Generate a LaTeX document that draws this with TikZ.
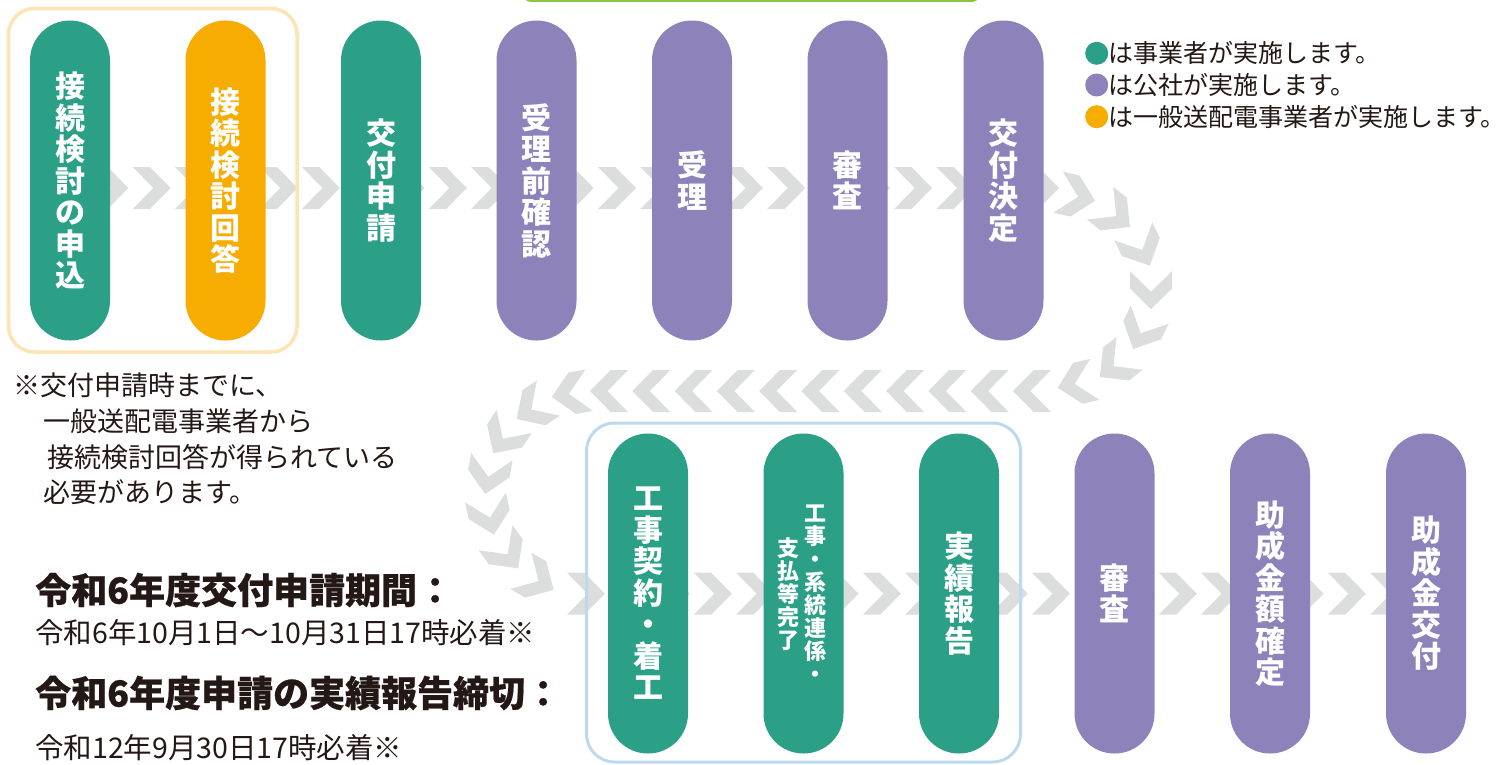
\documentclass[tikz,border=0pt]{standalone}
\usepackage{fontspec}
\newfontfamily\jp{Noto Sans CJK JP}
\newfontfamily\jphead{Noto Sans CJK JP}[BoldFeatures={FakeBold=0.6}]
\definecolor{cgreen}{HTML}{2BA086}
\definecolor{cpurple}{HTML}{8E82BB}
\definecolor{corange}{HTML}{F6AC00}
\definecolor{chevc}{HTML}{DCDDDD}
\definecolor{ctext}{HTML}{231815}
\definecolor{cyellowbox}{HTML}{FDE4B4}
\definecolor{cbluebox}{HTML}{BCD9F0}
\definecolor{ctopline}{HTML}{8CC63F}
\newcommand\pillfont{\jp\bfseries\fontsize{30pt}{31.5pt}\selectfont}
\newcommand\smallpillfont{\jp\bfseries\fontsize{22pt}{23pt}\selectfont}
\newcommand\chev[3]{\begin{scope}[shift={({#1},{#2})},rotate={#3}]
  \fill[chevc] (-19,-21) -- (-1.7,-21) -- (19,0) -- (-1.7,21) -- (-19,21) -- (1.6,0) -- cycle;
\end{scope}}
\tikzset{
  pill/.style={rectangle, rounded corners=39.9pt, minimum width=80pt, minimum height=320pt,
    inner sep=0pt, text=white, align=center, font=\pillfont},
  gp/.style={pill, fill=cgreen},
  pp/.style={pill, fill=cpurple},
  op/.style={pill, fill=corange},
  smalllabel/.style={inner sep=0pt, text=white, align=center, font=\smallpillfont},
  legdot/.style={circle, inner sep=0pt, minimum size=23pt},
  legtext/.style={anchor=west, inner sep=0pt, text=ctext, font=\jp\fontsize{25pt}{26pt}\selectfont},
  note/.style={anchor=west, inner sep=0pt, text=ctext, font=\jp\fontsize{27pt}{28pt}\selectfont},
  headtext/.style={anchor=west, inner sep=0pt, text=ctext, font=\jphead\bfseries\fontsize{36pt}{38pt}\selectfont},
  datetext/.style={anchor=west, inner sep=0pt, text=ctext, font=\jp\fontsize{28.5pt}{30pt}\selectfont},
}
\begin{document}
\begin{tikzpicture}[x=1pt,y=-1pt]
\useasboundingbox (0,0) rectangle (1507,764);
\fill[white] (0,0) rectangle (1507,764);

% top green line
\draw[ctopline, line width=2.5pt, rounded corners=4pt] (526,-10) -- (526,0.6) -- (977,0.6) -- (977,-10);

% chevron chain
\foreach \k in {-1,...,22} {
  \pgfmathsetmacro\cx{109.4+42.3*\k}
  \chev{\cx}{188}{0}
}
\foreach \k in {0,...,6} {
  \pgfmathsetmacro\th{-77+25.7*\k}
  \pgfmathsetmacro\cx{1055+96*cos(\th)}
  \pgfmathsetmacro\cy{290+96*sin(\th)}
  \pgfmathsetmacro\rt{-(\th+90)}
  \chev{\cx}{\cy}{\rt}
}
\foreach \k in {0,...,10} {
  \pgfmathsetmacro\cx{609+42.3*\k}
  \chev{\cx}{391}{180}
}
\foreach \k in {0,...,6} {
  \pgfmathsetmacro\th{-100-23.3*\k}
  \pgfmathsetmacro\cx{588+101*cos(\th)}
  \pgfmathsetmacro\cy{493+101*sin(\th)}
  \pgfmathsetmacro\rt{90-\th}
  \chev{\cx}{\cy}{\rt}
}
\foreach \k in {0,...,19} {
  \pgfmathsetmacro\cx{586+42.27*\k}
  \chev{\cx}{593.7}{0}
}

% group boxes
\draw[cyellowbox, line width=3.5pt, rounded corners=26pt] (8.5,8.5) rectangle (297,352);
\draw[cbluebox, line width=3pt, rounded corners=28pt] (586.5,423) rectangle (1020.5,762);

% row 1
\node[gp] (p1) at (70,180.5) {接\\続\\検\\討\\の\\申\\込};
\node[op] (p2) at (225.5,180.5) {接\\続\\検\\討\\回\\答};
\node[gp] (p3) at (381,180.5) {交\\付\\申\\請};
\node[pp] (p4) at (536.5,180.5) {受\\理\\前\\確\\認};
\node[pp] (p5) at (692,180.5) {受\\理};
\node[pp] (p6) at (847.5,180.5) {審\\査};
\node[pp] (p7) at (1003.5,180.5) {交\\付\\決\\定};

% row 2
\node[gp] (q1) at (648,593.5) {工\\事\\契\\約\\・\\着\\工};
\node[gp] (q2) at (803.5,593.5) {};
\node[smalllabel] (q2a) at (815,594) {工\\事\\・\\系\\統\\連\\係\\・};
\node[smalllabel] (q2b) at (788,594) {支\\払\\等\\完\\了};
\node[gp] (q3) at (959,593.5) {実\\績\\報\\告};
\node[pp] (q4) at (1114.5,593.5) {審\\査};
\node[pp] (q5) at (1270,593.5) {助\\成\\金\\額\\確\\定};
\node[pp] (q6) at (1426,593.5) {助\\成\\金\\交\\付};

% legend
\node[legdot, fill=cgreen] (l1) at (1096.7,53.3) {};
\node[legdot, fill=cpurple] (l2) at (1096.7,85) {};
\node[legdot, fill=corange] (l3) at (1096.7,116.7) {};
\node[legtext] (t1) at (1108,53.3) {は事業者が実施します。};
\node[legtext] (t2) at (1108,85) {は公社が実施します。};
\node[legtext] (t3) at (1108,116.7) {は一般送配電事業者が実施します。};

% note
\node[note] (n1) at (13,385) {※交付申請時までに、};
\node[note] (n2) at (43,421.7) {一般送配電事業者から};
\node[note] (n3) at (47,456.7) {接続検討回答が得られている};
\node[note] (n4) at (43,491.7) {必要があります。};

% dates
\node[headtext] (h1) at (35,590) {令和6年度交付申請期間：};
\node[datetext] (d1) at (35,633) {令和6年10月1日～10月31日17時必着※};
\node[headtext] (h2) at (35,693) {令和6年度申請の実績報告締切：};
\node[datetext] (d2) at (35,748) {令和12年9月30日17時必着※};
\end{tikzpicture}
\end{document}
